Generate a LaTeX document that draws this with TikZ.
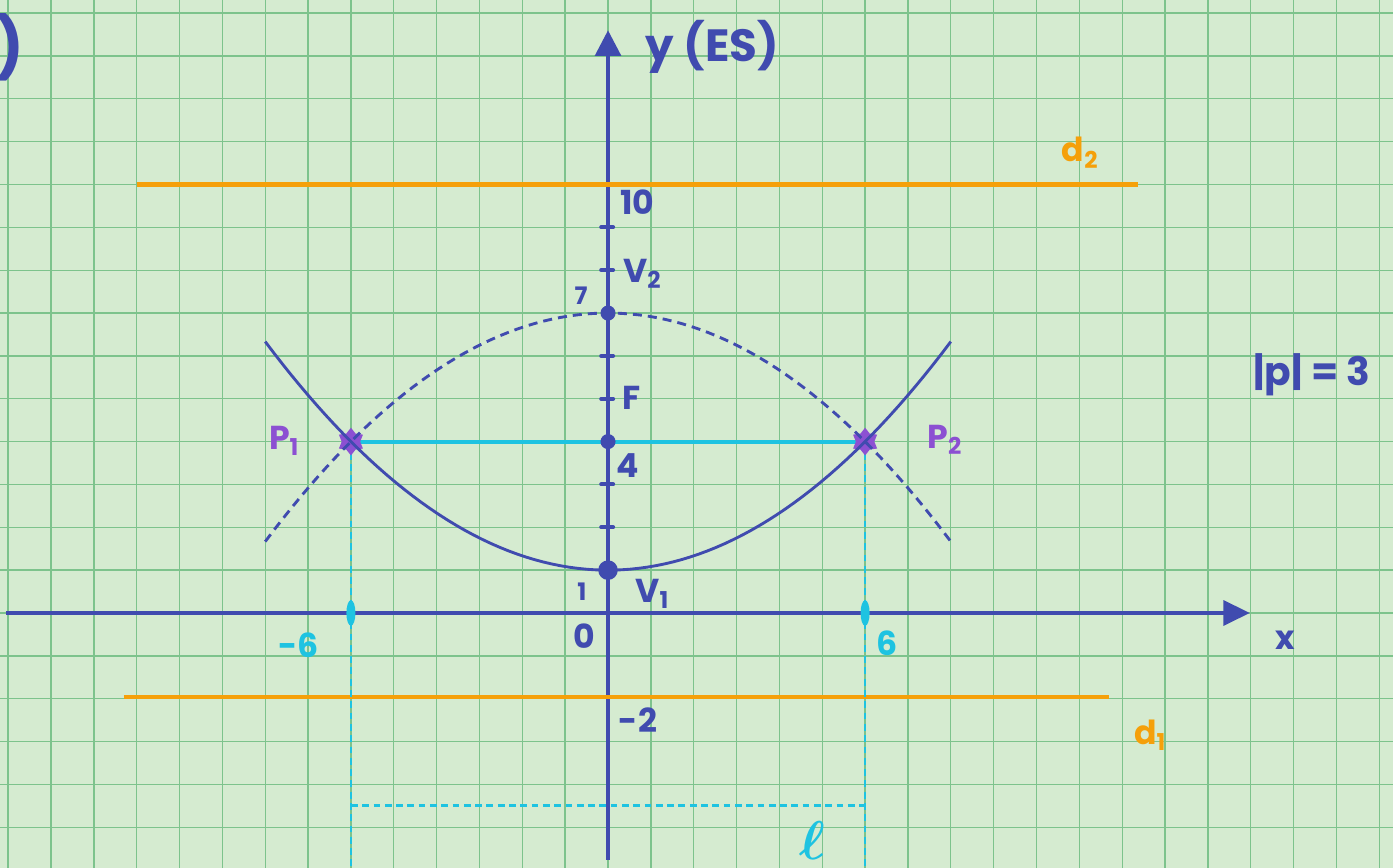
\documentclass[tikz,border=0pt]{standalone}
\usepackage{amsmath,amssymb}
\usepackage{fontspec}
\setmainfont{Poppins}
\usetikzlibrary{arrows.meta,shapes.geometric}
\definecolor{paper}{HTML}{D5EBD0}
\definecolor{gridgreen}{HTML}{7DC38C}
\definecolor{penblue}{HTML}{404BAF}
\definecolor{penorange}{HTML}{F5A00A}
\definecolor{pencyan}{HTML}{1EC3E1}
\definecolor{penpurple}{HTML}{8C50D2}
\tikzset{
  gridline/.style={draw=gridgreen, line width=0.9pt},
  axis/.style={draw=penblue, line width=2.6pt},
  curve/.style={draw=penblue, line width=1.9pt},
  dcurve/.style={curve, dash pattern=on 6pt off 4pt},
  dirline/.style={draw=penorange, line width=2.8pt},
  chord/.style={draw=pencyan, line width=2.6pt},
  guide/.style={draw=pencyan, line width=1.8pt, dash pattern=on 4.5pt off 3pt},
  ytick/.style={draw=penblue, line width=2.6pt, line cap=round},
  vdot/.style={circle, fill=penblue, inner sep=0pt, minimum size=10pt},
  xmark/.style={ellipse, fill=pencyan, inner sep=0pt, minimum width=6pt, minimum height=17pt},
  pmark/.style={star, star points=6, star point ratio=1.5, fill=penpurple, draw=penpurple, line width=1.5pt, inner sep=0pt, minimum size=16pt},
  hand/.style={font=\bfseries\fontsize{22}{24}\selectfont, text=penblue, inner sep=1pt},
  small/.style={hand, font=\bfseries\fontsize{16}{18}\selectfont}
}

\begin{document}
\begin{tikzpicture}[x=1cm,y=1cm]
  \useasboundingbox (-14.19,-5.951) rectangle (18.32,14.306);
  \clip (-14.19,-5.951) rectangle (18.32,14.306);
  \fill[paper] (-14.19,-5.951) rectangle (18.32,14.306);
  \draw[gridline] (-15,-6) grid (19,15);

  \coordinate (O) at (0,0);
  \coordinate (xL) at (-14.05,0);
  \coordinate (xR) at (14.98,0);
  \coordinate (yB) at (0,-5.76);
  \coordinate (yT) at (0,13.6);
  \coordinate (V1) at (0,1);
  \coordinate (F) at (0,4);
  \coordinate (V2) at (0,7);
  \coordinate (P1) at (-6,4);
  \coordinate (P2) at (6,4);
  \coordinate (P1b) at (-6,-6.2);
  \coordinate (P2b) at (6,-6.2);
  \coordinate (Ll) at (-6,-4.5);
  \coordinate (Lr) at (6,-4.5);

  \draw[axis,-{Triangle[length=0.62cm,width=0.58cm]}] (xL) -- (xR);
  \draw[axis,-{Triangle[length=0.6cm,width=0.6cm]}] (yB) -- (yT);

  \draw[dirline] (-11,10) coordinate (d2a) -- (12.37,10) coordinate (d2b);
  \draw[dirline] (-11.3,-1.96) coordinate (d1a) -- (11.7,-1.96) coordinate (d1b);

  \draw[guide] (P1) -- (P1b);
  \draw[guide] (P2) -- (P2b);
  \draw[guide] (Ll) -- (Lr);
  \draw[chord] (P1) -- (P2);

  \node[pmark] (m1) at (P1) {};
  \node[pmark] (m2) at (P2) {};

  \draw[curve] plot[domain=-8:8, samples=80] (\x, {1+\x*\x/12});
  \draw[dcurve] plot[domain=-8:8, samples=80] (\x, {7-\x*\x/12});

  \foreach \t in {2,3,5,6,8,9}
    \draw[ytick] (-0.16,\t) -- (0.12,\t);
  \node[vdot, minimum size=13pt] (dV1) at (V1) {};
  \node[vdot] (dF) at (F) {};
  \node[vdot] (dV2) at (V2) {};
  \node[xmark] (t1) at (-6,0) {};
  \node[xmark] (t2) at (6,0) {};

  \node[hand, font=\bfseries\fontsize{30}{32}\selectfont] (ylbl) at (2.43,13.21) {y (ES)};
  \node[hand] (l10) at (0.68,9.59) {10};
  \node[hand] (lV2) at (0.8,7.91) {V\textsubscript{2}};
  \node[small] (l7) at (-0.63,7.4) {7};
  \node[hand] (lF) at (0.56,5.02) {F};
  \node[hand] (l4) at (0.47,3.45) {4};
  \node[small] (l1) at (-0.61,0.49) {1};
  \node[hand] (lV1) at (1.03,0.44) {V\textsubscript{1}};
  \node[hand] (l0) at (-0.56,-0.54) {0};
  \node[hand] (lm2) at (0.7,-2.5) {-2};
  \node[hand, text=pencyan] (lm6) at (-7.23,-0.75) {-6};
  \node[hand, text=pencyan] (l6) at (6.51,-0.7) {6};
  \node[hand] (lx) at (15.8,-0.63) {x};
  \node[hand, font=\bfseries\fontsize{26}{28}\selectfont] (lp) at (16.43,5.55) {|p| = 3};
  \node[hand, text=penorange] (ld2) at (11.02,10.74) {d\textsubscript{2}};
  \node[hand, text=penorange] (ld1) at (12.65,-2.85) {d\textsubscript{1}};
  \node[hand, text=penpurple] (lP1) at (-7.56,4.01) {P\textsubscript{1}};
  \node[hand, text=penpurple] (lP2) at (7.86,4.04) {P\textsubscript{2}};
  \node[hand, text=pencyan, font=\boldmath\fontsize{20}{22}\selectfont] (lell) at (4.76,-5.32) {\scalebox{1.75}{$\ell$}};
  \node[hand, anchor=east, font=\bfseries\fontsize{40}{42}\selectfont] (lpar) at (-13.58,13.2) {)};
\end{tikzpicture}
\end{document}
